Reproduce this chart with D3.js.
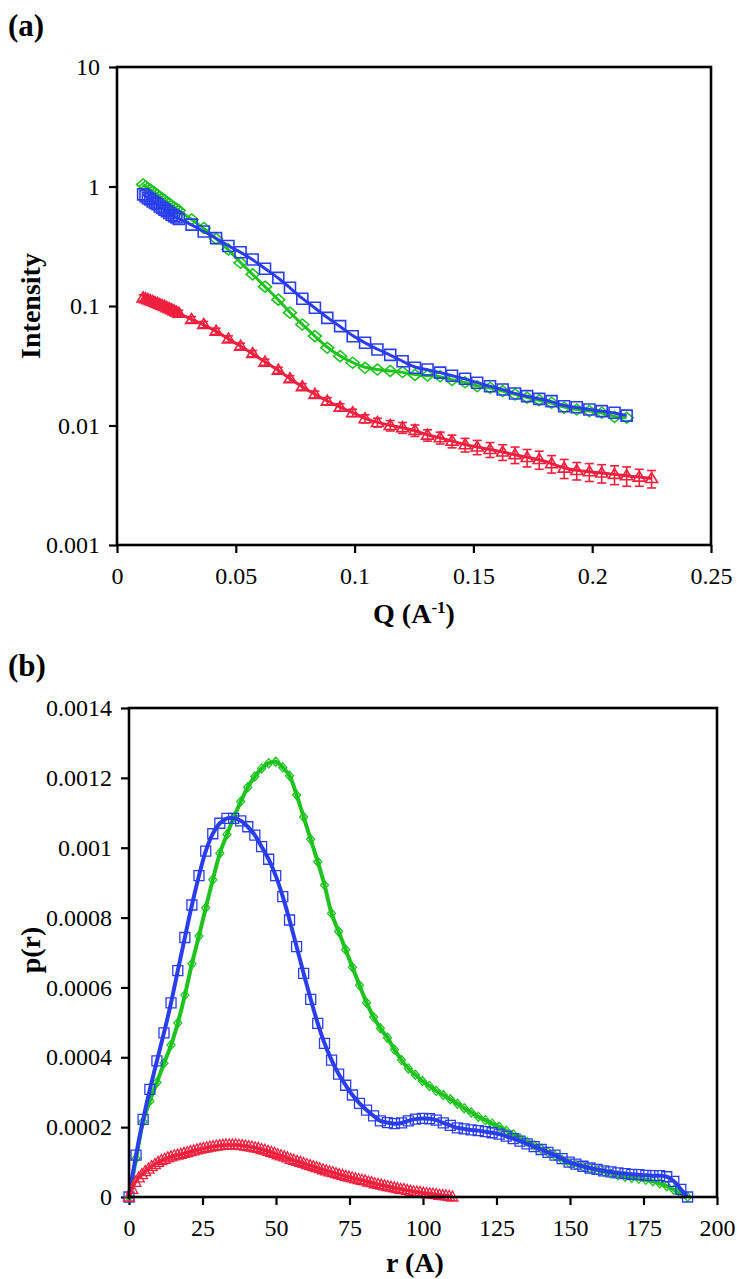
<!DOCTYPE html>
<html><head><meta charset="utf-8">
<script src="https://cdn.jsdelivr.net/npm/d3@7"></script>
<style>html,body{margin:0;padding:0;background:#fff;}svg{display:block;} text{font-family:"Liberation Serif",serif;}</style>
</head><body>
<script>
// ---------- Panel (a) data: SAXS intensity vs Q ----------
const qA = [0.011,0.012,0.013,0.014,0.015,0.016,0.017,0.018,0.019,0.020,0.021,0.022,0.023,0.024,0.025,0.026,
  0.0314,0.0365,0.0417,0.0469,0.052,0.0571,0.0623,0.0679,0.0728,0.078,0.0833,0.0885,0.0939,0.0992,0.1044,0.1096,
  0.115,0.1202,0.1254,0.1307,0.136,0.141,0.1465,0.1516,0.157,0.1623,0.1675,0.1726,0.1777,0.1829,0.1882,0.1935,
  0.1988,0.204,0.2094,0.2145,0.2198,0.225];
const iGreen = [1.04,1.0,0.97,0.94,0.91,0.88,0.85,0.82,0.79,0.77,0.74,0.72,0.69,0.67,0.65,0.63,
  0.53,0.45,0.365,0.297,0.23,0.184,0.145,0.113,0.088,0.070,0.056,0.0447,0.038,0.0335,0.0304,0.0294,
  0.0286,0.028,0.0265,0.0262,0.0258,0.024,0.023,0.0213,0.0207,0.0194,0.0182,0.0171,0.0163,0.0155,0.0141,0.0136,
  0.0132,0.0128,0.0118,0.0116];
const iBlue = [0.86,0.83,0.80,0.78,0.75,0.73,0.71,0.68,0.66,0.64,0.62,0.60,0.58,0.565,0.55,0.535,
  0.48,0.42,0.37,0.318,0.282,0.245,0.205,0.172,0.142,0.115,0.0966,0.0796,0.0678,0.0559,0.0492,0.0433,
  0.039,0.0345,0.0304,0.0294,0.0277,0.0261,0.0246,0.0228,0.0213,0.020,0.0185,0.0176,0.0167,0.016,0.0145,0.0142,
  0.0136,0.0132,0.0128,0.0121];
const iRed = [0.117,0.115,0.113,0.111,0.109,0.107,0.105,0.103,0.101,0.099,0.097,0.095,0.093,0.091,0.089,0.087,
  0.077,0.070,0.0615,0.053,0.0461,0.040,0.0339,0.029,0.0246,0.0211,0.0182,0.0160,0.0142,0.0128,0.0114,0.0106,
  0.0100,0.0096,0.0091,0.0083,0.0079,0.0074,0.0069,0.0066,0.0063,0.006,0.0057,0.0054,0.0052,0.0048,0.0044,0.0042,
  0.0041,0.0040,0.0039,0.0038,0.0037,0.0036];
const eRed = [0.007,0.007,0.007,0.007,0.007,0.006,0.006,0.006,0.006,0.006,0.006,0.006,0.006,0.005,0.005,0.005,
  0.0046,0.0042,0.0037,0.0032,0.0028,0.0024,0.002,0.0017,0.0015,0.0013,0.0012,0.0011,0.001,0.0009,0.0009,0.0009,
  0.001,0.001,0.001,0.0009,0.0009,0.0009,0.0009,0.0009,0.0009,0.0009,0.0009,0.0009,0.0009,0.0008,0.0008,0.0007,
  0.0007,0.0007,0.0007,0.0007,0.0006,0.0006];
const qTicks = [0,0.05,0.1,0.15,0.2,0.25];
const qTickLabels = ["0","0.05","0.1","0.15","0.2","0.25"];
const iTicks = [0.001,0.01,0.1,1,10];
const iTickLabels = ["0.001","0.01","0.1","1","10"];

// ---------- Panel (b) data: p(r), values in units of 1e-4 ----------
const rBG = [0,2.4,4.8,7.1,9.5,11.9,14.3,16.6,19.0,21.4,23.8,26.1,28.5,30.9,33.3,35.6,38.0,40.4,42.8,45.1,
  47.5,49.9,52.3,54.6,57.0,59.4,61.8,64.2,66.5,68.9,71.3,73.7,76.0,78.4,80.8,83.2,85.5,87.9,90.3,92.7,
  95.0,97.4,99.8,102.2,104.5,106.9,109.3,111.7,114.0,116.4,118.8,121.2,123.5,125.9,128.3,130.7,133.0,135.4,137.8,140.2,
  142.5,144.9,147.3,149.7,152.0,154.4,156.8,159.2,161.5,163.9,166.3,168.7,171.0,173.4,175.8,178.2,180.5,182.9,185.3,187.7,190.0];
const pBlue = [0,1.2,2.22,3.08,3.9,4.7,5.56,6.48,7.43,8.36,
  9.2,9.9,10.4,10.7,10.84,10.84,10.77,10.6,10.36,10.03,
  9.67,9.2,8.6,7.93,7.17,6.4,5.66,4.97,4.4,3.92,
  3.52,3.2,2.92,2.68,2.49,2.32,2.18,2.13,2.1,2.12,
  2.18,2.23,2.25,2.24,2.2,2.12,2.05,1.98,1.95,1.92,
  1.9,1.87,1.84,1.80,1.74,1.67,1.6,1.52,1.44,1.36,
  1.28,1.2,1.1,1.0,0.94,0.88,0.83,0.79,0.75,0.72,
  0.69,0.67,0.65,0.64,0.62,0.61,0.61,0.58,0.45,0.22,0];
const pGreen = [0,1.1,2.16,2.75,3.28,3.83,4.35,4.98,5.78,6.68,
  7.47,8.28,9.08,9.84,10.38,10.86,11.32,11.73,12.04,12.27,
  12.42,12.46,12.3,12.06,11.51,10.88,10.24,9.6,8.93,8.12,
  7.6,7.08,6.58,6.06,5.56,5.15,4.83,4.56,4.22,3.92,
  3.68,3.5,3.32,3.18,3.04,2.92,2.8,2.67,2.54,2.42,
  2.3,2.2,2.1,2.01,1.9,1.79,1.68,1.58,1.48,1.38,
  1.28,1.18,1.07,0.97,0.92,0.87,0.82,0.77,0.72,0.67,
  0.62,0.58,0.55,0.52,0.49,0.45,0.39,0.31,0.21,0.1,0];
const rRed = [0,1.1,2.2,3.3,4.4,5.5,6.6,7.7,8.8,9.9,11,12.1,13.2,14.3,15.4,16.5,17.6,18.7,19.8,20.9,
  22,23.1,24.2,25.3,26.4,27.5,28.6,29.7,30.8,31.9,33,34.1,35.2,36.3,37.4,38.5,39.6,40.7,41.8,42.9,
  44,45.1,46.2,47.3,48.4,49.5,50.6,51.7,52.8,53.9,55,56.1,57.2,58.3,59.4,60.5,61.6,62.7,63.8,64.9,
  66,67.1,68.2,69.3,70.4,71.5,72.6,73.7,74.8,75.9,77,78.1,79.2,80.3,81.4,82.5,83.6,84.7,85.8,86.9,
  88,89.1,90.2,91.3,92.4,93.5,94.6,95.7,96.8,97.9,99,100.1,101.2,102.3,103.4,104.5,105.6,106.7,107.8,108.9,110];
const pRed = [0,0.22,0.42,0.55,0.64,0.73,0.8,0.87,0.93,0.99,1.04,1.08,1.12,1.15,1.18,1.2,1.22,1.25,1.27,1.3,
  1.32,1.35,1.37,1.39,1.41,1.43,1.44,1.46,1.47,1.48,1.49,1.49,1.49,1.49,1.48,1.47,1.46,1.44,1.43,1.41,
  1.39,1.36,1.34,1.31,1.28,1.25,1.21,1.18,1.15,1.12,1.08,1.05,1.02,0.99,0.96,0.93,0.9,0.87,0.84,0.81,
  0.78,0.75,0.72,0.7,0.67,0.64,0.62,0.59,0.57,0.55,0.52,0.5,0.48,0.46,0.43,0.41,0.38,0.36,0.34,0.32,
  0.3,0.28,0.26,0.24,0.22,0.21,0.19,0.17,0.15,0.14,0.13,0.11,0.1,0.09,0.08,0.07,0.05,0.04,0.03,0.02,0];
const rTicks = [0,25,50,75,100,125,150,175,200];
const pTicks = [0,0.0002,0.0004,0.0006,0.0008,0.001,0.0012,0.0014];
const pTickLabels = ["0","0.0002","0.0004","0.0006","0.0008","0.001","0.0012","0.0014"];

// ---------- styling ----------
const GREEN = "#1ec31e", BLUE = "#2a3ef0", RED = "#f0203e";
const FONT = "Liberation Serif, serif";

const svg = d3.select("body").append("svg").attr("width",737).attr("height",1279);

// marker paths
const sq = s => `M${-s/2},${-s/2}h${s}v${s}h${-s}Z`;
const dia = (w,h) => `M0,${-h/2}L${w/2},0L0,${h/2}L${-w/2},0Z`;
const tri = (w,h) => `M0,${-h*0.6}L${w/2},${h*0.4}L${-w/2},${h*0.4}Z`;

function frame(g, x, y) {
  const [x0,x1] = x.range(), [y0,y1] = y.range();
  g.append("rect").attr("x",x0).attr("y",Math.min(y0,y1)).attr("width",x1-x0).attr("height",Math.abs(y0-y1))
    .attr("fill","none").attr("stroke","#000").attr("stroke-width",2.6);
}
function styleAxis(g) {
  g.attr("font-family",null).attr("font-size",null);
  g.select(".domain").remove();
  g.selectAll(".tick line").attr("stroke","#000").attr("stroke-width",2.2);
  g.selectAll(".tick text").style("font-family",FONT).style("font-size","24px").attr("fill","#000");
}

// ================= Panel (a) =================
const xA = d3.scaleLinear().domain([0,0.25]).range([117,711]);
const yA = d3.scaleLog().domain([0.001,10]).range([545,67]);
const gA = svg.append("g");

gA.append("g").attr("transform","translate(117,0)")
  .call(d3.axisLeft(yA).tickValues(iTicks).tickFormat((d,i)=>iTickLabels[i]).tickSize(8).tickPadding(9))
  .call(styleAxis);
gA.append("g").attr("transform","translate(0,545)")
  .call(d3.axisBottom(xA).tickValues(qTicks).tickFormat((d,i)=>qTickLabels[i]).tickSize(8).tickPadding(14))
  .call(styleAxis);

const lineA = (vals, n) => d3.line().curve(d3.curveBasis)
  .x((d,i)=>xA(qA[i])).y(d=>yA(d))(vals.slice(0,n));

function seriesA(vals, n, color, shape) {
  const g = gA.append("g");
  g.append("path").attr("d",lineA(vals,n)).attr("fill","none").attr("stroke",color).attr("stroke-width",3);
  g.selectAll("path.m").data(vals.slice(0,n)).join("path").attr("class","m")
    .attr("transform",(d,i)=>`translate(${xA(qA[i])},${yA(d)})`)
    .attr("d",shape).attr("fill","none").attr("stroke",color).attr("stroke-width",1.6);
}
seriesA(iGreen, iGreen.length, GREEN, dia(13,11));
seriesA(iBlue, iBlue.length, BLUE, sq(11));
// red with error bars
{
  const g = gA.append("g");
  const eb = g.selectAll("g.eb").data(iRed).join("g").attr("class","eb");
  eb.append("line").attr("x1",(d,i)=>xA(qA[i])).attr("x2",(d,i)=>xA(qA[i]))
    .attr("y1",(d,i)=>yA(d+eRed[i])).attr("y2",(d,i)=>yA(d-eRed[i]))
    .attr("stroke",RED).attr("stroke-width",1.6);
  eb.append("line").attr("x1",(d,i)=>xA(qA[i])-4.5).attr("x2",(d,i)=>xA(qA[i])+4.5)
    .attr("y1",(d,i)=>yA(d+eRed[i])).attr("y2",(d,i)=>yA(d+eRed[i]))
    .attr("stroke",RED).attr("stroke-width",1.6);
  eb.append("line").attr("x1",(d,i)=>xA(qA[i])-4.5).attr("x2",(d,i)=>xA(qA[i])+4.5)
    .attr("y1",(d,i)=>yA(d-eRed[i])).attr("y2",(d,i)=>yA(d-eRed[i]))
    .attr("stroke",RED).attr("stroke-width",1.6);
  g.append("path").attr("d",lineA(iRed,iRed.length)).attr("fill","none").attr("stroke",RED).attr("stroke-width",3);
  g.selectAll("path.m").data(iRed).join("path").attr("class","m")
    .attr("transform",(d,i)=>`translate(${xA(qA[i])},${yA(d)})`)
    .attr("d",tri(12,10)).attr("fill","none").attr("stroke",RED).attr("stroke-width",1.6);
}
frame(gA, xA, yA);

function title(x, y, size, txt, rot) {
  const t = svg.append("text").attr("text-anchor", rot ? "middle" : (x < 20 ? "start" : "middle"))
    .attr("transform", `translate(${x},${y})` + (rot ? " rotate(-90)" : ""))
    .style("font-family",FONT).style("font-weight","bold").style("font-size",size+"px");
  if (txt) t.text(txt);
  return t;
}
title(8, 36, 31, "(a)");
title(40, 306, 28, "Intensity", true);
{
  const t = title(414, 623, 28);
  t.append("tspan").text("Q (A");
  t.append("tspan").style("font-size","17px").attr("dy",-10).text("-1");
  t.append("tspan").attr("dy",10).text(")");
}

// ================= Panel (b) =================
const xB = d3.scaleLinear().domain([0,200]).range([129,717]);
const yB = d3.scaleLinear().domain([0,0.0014]).range([1197,708]);
const gB = svg.append("g");

gB.append("g").attr("transform","translate(129,0)")
  .call(d3.axisLeft(yB).tickValues(pTicks).tickFormat((d,i)=>pTickLabels[i]).tickSize(8).tickPadding(9))
  .call(styleAxis);
gB.append("g").attr("transform","translate(0,1197)")
  .call(d3.axisBottom(xB).tickValues(rTicks).tickFormat(d3.format("d")).tickSize(8).tickPadding(14))
  .call(styleAxis);

function seriesB(rs, vals, color, shape, lw) {
  const g = gB.append("g");
  const ln = d3.line().curve(d3.curveCatmullRom).x((d,i)=>xB(rs[i])).y(d=>yB(d*1e-4));
  g.append("path").attr("d",ln(vals)).attr("fill","none").attr("stroke",color).attr("stroke-width",lw);
  g.selectAll("path.m").data(vals).join("path").attr("class","m")
    .attr("transform",(d,i)=>`translate(${xB(rs[i])},${yB(d*1e-4)})`)
    .attr("d",shape).attr("fill","none").attr("stroke",color).attr("stroke-width",1.3);
}
seriesB(rBG, pGreen, GREEN, dia(8,9), 4);
seriesB(rBG, pBlue, BLUE, sq(10), 4);
seriesB(rRed, pRed, RED, tri(11,10), 3);
frame(gB, xB, yB);

title(8, 676, 31, "(b)");
title(40, 950, 28, "p(r)", true);
title(415, 1272, 28, "r (A)");
</script>
</body></html>
